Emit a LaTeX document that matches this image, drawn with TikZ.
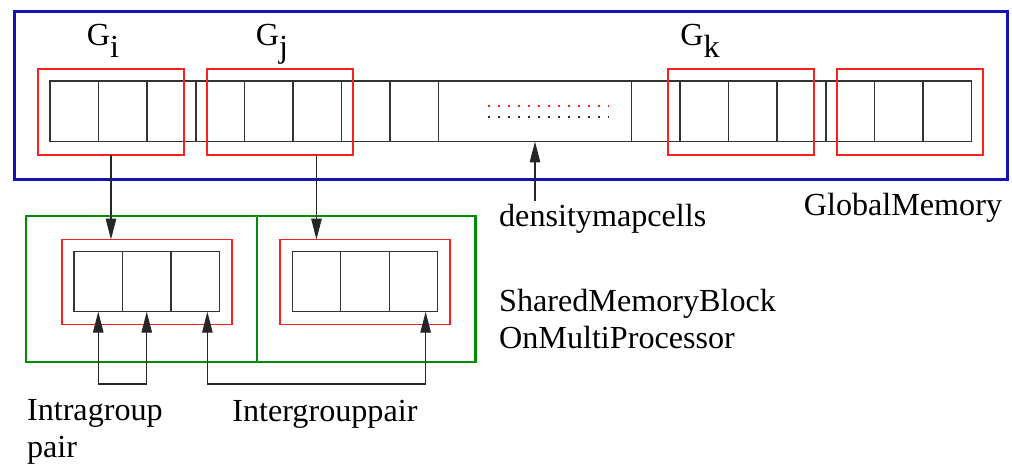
\documentclass[tikz,border=0pt]{standalone}
\usepackage{fontspec}
\setmainfont{Liberation Serif}
\usepackage{tikz}
\usetikzlibrary{positioning,arrows.meta,calc}
\definecolor{gmblue}{RGB}{20,20,180}
\definecolor{smgreen}{RGB}{0,140,0}
\definecolor{grpred}{RGB}{255,30,30}
\tikzset{
  cell/.style={draw=black!80, line width=0.7pt, minimum width=0.97cm, minimum height=1.21cm, inner sep=0pt, outer sep=0pt, anchor=north west},
  grp/.style={draw=grpred, line width=1pt, inner sep=0pt, outer sep=0pt, anchor=north west},
  gmem/.style={draw=gmblue, line width=1.7pt, inner sep=0pt, anchor=north west},
  smem/.style={draw=smgreen, line width=1.4pt, inner sep=0pt, anchor=north west, minimum height=2.914cm},
  lbl/.style={font=\fontsize{18.3}{20.8}\selectfont, inner sep=0pt, align=left},
  arr/.style={-{Triangle[length=0.42cm,width=0.21cm]}, line width=0.7pt, draw=black!85},
  arrboth/.style={{Triangle[length=0.42cm,width=0.21cm]}-{Triangle[length=0.42cm,width=0.21cm]}, line width=0.7pt, draw=black!85},
  dots/.style={line width=1.2pt, dash pattern=on 1.2pt off 4.5pt},
}

\begin{document}
\begin{tikzpicture}[x=0.02cm,y=-0.02cm]
    \useasboundingbox (0,0) rectangle (1012,468);
    % global memory
    \node[gmem, minimum width=19.86cm, minimum height=3.36cm] (gm) at (13,10) {};
    % density map cells
    \foreach \i in {0,1,2} \node[cell] (ca\i) at ({50+48.5*\i},81) {};
    \foreach \i in {0,...,4} \node[cell] (cb\i) at ({196+48.5*\i},81) {};
    \node[cell, minimum width=3.86cm] (gap) at (438.5,81) {};
    \foreach \i in {0,...,3} \node[cell] (cc\i) at ({631.5+48.5*\i},81) {};
    \foreach \i in {0,1,2} \node[cell] (cd\i) at ({826+48.5*\i},81) {};
    \draw[dots, grpred] (487.5,106) -- (608,106);
    \draw[dots, black!80] (487.5,117) -- (608,117);
    % groups
    \node[grp, minimum width=2.92cm, minimum height=1.72cm] (gi) at (38,69) {};
    \node[grp, minimum width=2.92cm, minimum height=1.72cm] (gj) at (207,69) {};
    \node[grp, minimum width=2.92cm, minimum height=1.72cm] (gk) at (668,69) {};
    \node[grp, minimum width=2.92cm, minimum height=1.72cm] (gl) at (837,69) {};
    \node[lbl, anchor=base] (gilbl) at (103,45) {G\raisebox{-0.24cm}{i}};
    \node[lbl, anchor=base] (gjlbl) at (272,45) {G\raisebox{-0.24cm}{j}};
    \node[lbl, anchor=base] (gklbl) at (700,45) {G\raisebox{-0.24cm}{k}};
    % shared memory
    \node[smem, minimum width=4.614cm] (sml) at (25,215) {};
    \node[smem, minimum width=4.372cm] (smr) at (255.7,215) {};
    \node[grp, minimum width=3.4cm, minimum height=1.7cm] (sl) at (62,239.5) {};
    \node[grp, minimum width=3.4cm, minimum height=1.7cm] (sr) at (280,239.5) {};
    \foreach \i in {0,1,2} \node[cell, minimum height=1.2cm] (ls\i) at ({74+48.5*\i},251.7) {};
    \foreach \i in {0,1,2} \node[cell, minimum height=1.2cm] (rs\i) at ({292.3+48.5*\i},251.7) {};
    % labels
    \node[lbl, anchor=base west] (dens) at (498.8,226.7) {densitymapcells};
    \node[lbl, anchor=base west] (gmlbl) at (803.5,215) {GlobalMemory};
    \node[lbl, anchor=base west] (smlbl) at (498.8,348.3) {SharedMemoryBlock\\OnMultiProcessor};
    \node[lbl, anchor=base west] (intra) at (26.7,457.5) {Intragroup\\pair};
    \node[lbl, anchor=base west] (inter) at (232,421.7) {Intergrouppair};
    % arrows
    \coordinate (gjout) at ($(gj.south west)!0.75!(gj.south east)$);
    \draw[arr] (gi.south) -- (gi.south |- sl.north);
    \draw[arr] (gjout) -- (gjout |- sr.north);
    \draw[arr] (gap.south |- dens.north) ++(0,-3) -- (gap.south);
    \coordinate (ls2p) at ($(ls2.south west)!0.75!(ls2.south east)$);
    \coordinate (rs2p) at ($(rs2.south west)!0.75!(rs2.south east)$);
    \draw[arrboth] (ls0.south) -- ++(0,72.3) -| (ls1.south);
    \draw[arrboth] (ls2p) -- ++(0,72.3) -| (rs2p);
  \end{tikzpicture}
\end{document}
